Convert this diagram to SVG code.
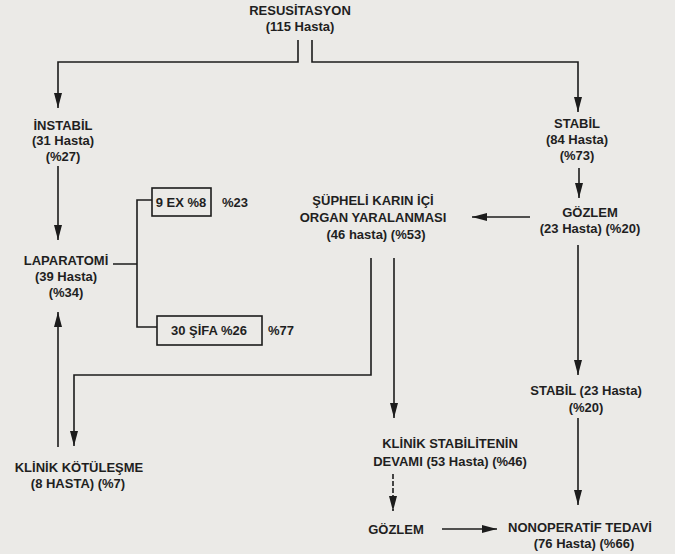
<svg xmlns="http://www.w3.org/2000/svg" width="675" height="554" viewBox="0 0 675 554">
<defs>
<marker id="ah" markerUnits="userSpaceOnUse" markerWidth="16" markerHeight="10" refX="15" refY="4" orient="auto">
<path d="M0,0 L15,4 L0,8 z" fill="#1c1c1c"/>
</marker>
<style>
text{font-family:"Liberation Sans",Arial,sans-serif;font-weight:bold;font-size:13px;fill:#1f1f1f;text-anchor:middle}
.l{text-anchor:start}
.c{fill:none;stroke:#1c1c1c;stroke-width:1.6}
.a{marker-end:url(#ah)}
.d{stroke-dasharray:5,2}
.box{fill:none;stroke:#1c1c1c;stroke-width:1.6}
</style>
</defs>
<rect width="675" height="554" fill="#ebeae7"/>
<g id="connectors">
<path class="c a" d="M298,40 V62 H58 V108"/>
<path class="c a" d="M312,40 V62 H578 V112"/>
<path class="c a" d="M58,166 V240"/>
<path class="c" d="M113,264 H137 M152,200 H137 V327 H157"/>
<path class="c a" d="M58,447 V312"/>
<path class="c a" d="M579,168 V198"/>
<path class="c a" d="M530,217 H472"/>
<path class="c a" d="M371,258 V375 H74 V446"/>
<path class="c a" d="M394,258 V418"/>
<path class="c a" d="M578,245 V375"/>
<path class="c a" d="M578,418 V505"/>
<path class="c a d" d="M393,474 V511"/>
<path class="c a" d="M442,529 H497"/>
</g>
<g id="resusitasyon"><text x="300" y="15">RESUSİTASYON</text><text x="300" y="31">(115 Hasta)</text></g>
<g id="instabil"><text x="63" y="130">İNSTABİL</text><text x="63" y="145">(31 Hasta)</text><text x="63" y="161">(%27)</text></g>
<g id="stabil"><text x="577" y="128">STABİL</text><text x="577" y="144">(84 Hasta)</text><text x="577" y="160">(%73)</text></g>
<g id="laparatomi"><text x="66" y="265">LAPARATOMİ</text><text x="66" y="281">(39 Hasta)</text><text x="66" y="297">(%34)</text></g>
<g id="ex"><rect class="box" x="152" y="188" width="59" height="28"/><text x="181" y="207">9 EX %8</text><text class="l" x="222" y="207">%23</text></g>
<g id="sifa"><rect class="box" x="157" y="316" width="105" height="29"/><text x="209" y="335">30 ŞİFA %26</text><text class="l" x="268" y="335">%77</text></g>
<g id="supheli"><text x="373" y="205">ŞÜPHELİ KARIN İÇİ</text><text x="373" y="222">ORGAN YARALANMASI</text><text x="376" y="239">(46 hasta) (%53)</text></g>
<g id="gozlem1"><text x="590" y="217">GÖZLEM</text><text x="590" y="233">(23 Hasta) (%20)</text></g>
<g id="stabil2"><text x="586" y="395">STABİL (23 Hasta)</text><text x="586" y="412">(%20)</text></g>
<g id="klinik-kotu"><text x="79" y="472">KLİNİK KÖTÜLEŞME</text><text x="78" y="488">(8 HASTA) (%7)</text></g>
<g id="klinik-stab"><text x="450" y="448">KLİNİK STABİLİTENİN</text><text x="450" y="466">DEVAMI (53 Hasta) (%46)</text></g>
<g id="gozlem2"><text x="396" y="534">GÖZLEM</text></g>
<g id="nonoperatif"><text x="580" y="532">NONOPERATİF TEDAVİ</text><text x="584" y="548">(76 Hasta) (%66)</text></g>
</svg>
